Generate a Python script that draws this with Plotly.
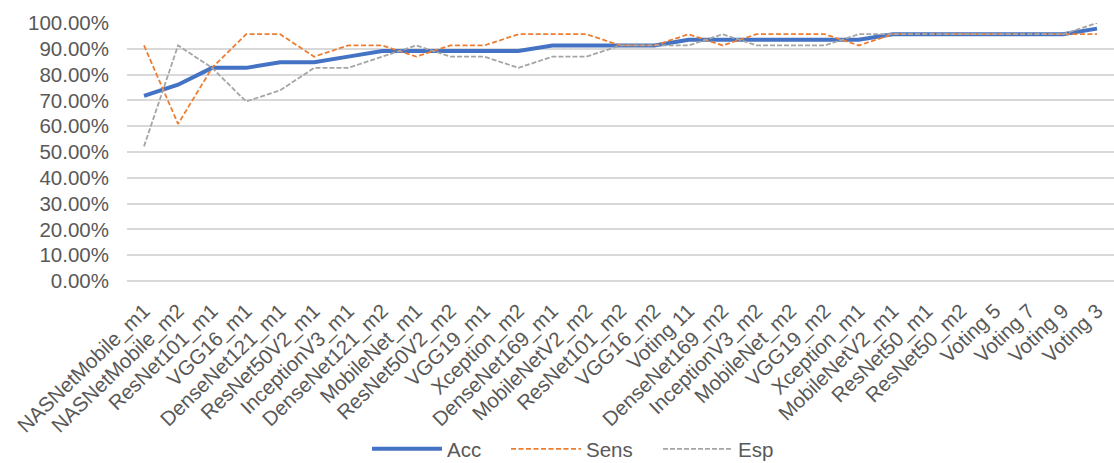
import plotly.graph_objects as go

categories = ["NASNetMobile_m1", "NASNetMobile_m2", "ResNet101_m1", "VGG16_m1", "DenseNet121_m1",
              "ResNet50V2_m1", "InceptionV3_m1", "DenseNet121_m2", "MobileNet_m1", "ResNet50V2_m2",
              "VGG19_m1", "Xception_m2", "DenseNet169_m1", "MobileNetV2_m2", "ResNet101_m2",
              "VGG16_m2", "Voting 11", "DenseNet169_m2", "InceptionV3_m2", "MobileNet_m2",
              "VGG19_m2", "Xception_m1", "MobileNetV2_m1", "ResNet50_m1", "ResNet50_m2",
              "Voting 5", "Voting 7", "Voting 9", "Voting 3"]

acc = [71.74, 76.09, 82.61, 82.61, 84.78, 84.78, 86.96, 89.13, 89.13, 89.13,
       89.13, 89.13, 91.30, 91.30, 91.30, 91.30, 93.48, 93.48, 93.48, 93.48,
       93.48, 93.48, 95.65, 95.65, 95.65, 95.65, 95.65, 95.65, 97.83]
sens = [91.30, 60.87, 82.61, 95.65, 95.65, 86.96, 91.30, 91.30, 86.96, 91.30,
        91.30, 95.65, 95.65, 95.65, 91.30, 91.30, 95.65, 91.30, 95.65, 95.65,
        95.65, 91.30, 95.65, 95.65, 95.65, 95.65, 95.65, 95.65, 95.65]
esp = [52.17, 91.30, 82.61, 69.57, 73.91, 82.61, 82.61, 86.96, 91.30, 86.96,
       86.96, 82.61, 86.96, 86.96, 91.30, 91.30, 91.30, 95.65, 91.30, 91.30,
       91.30, 95.65, 95.65, 95.65, 95.65, 95.65, 95.65, 95.65, 100.00]

y_ticks = [0, 10, 20, 30, 40, 50, 60, 70, 80, 90, 100]
y_tick_labels = [f"{v:.2f}%" for v in y_ticks]

font_family = "Liberation Sans, Arial, sans-serif"
text_color = "#595959"
fs = 20.5

fig = go.Figure()
fig.add_trace(go.Scatter(x=categories, y=acc, name="Acc", mode="lines", legend="legend",
                         line=dict(color="#4472C4", width=4)))
fig.add_trace(go.Scatter(x=categories, y=sens, name="Sens", mode="lines", legend="legend2",
                         line=dict(color="#ED7D31", width=1.8, dash="5px,2.5px")))
fig.add_trace(go.Scatter(x=categories, y=esp, name="Esp", mode="lines", legend="legend3",
                         line=dict(color="#A5A5A5", width=1.8, dash="5px,2px")))

def leg(xpx):
    return dict(orientation="h", x=xpx / 1114, xanchor="left", xref="container",
                y=1 - 449 / 463, yanchor="middle", yref="container",
                font=dict(size=fs, color=text_color), itemwidth=70,
                bgcolor="rgba(0,0,0,0)", borderwidth=0)

fig.update_layout(
    width=1114, height=463,
    margin=dict(l=127, r=0, t=23, b=182),
    paper_bgcolor="white", plot_bgcolor="white",
    font=dict(family=font_family, size=fs, color=text_color),
    showlegend=True,
    legend=leg(367), legend2=leg(506), legend3=leg(658),
    xaxis=dict(type="category", range=[-0.5, len(categories) - 0.5], tickangle=-44,
               showgrid=False, showline=False, ticks="", automargin=False,
               ticklabelstandoff=13,
               tickfont=dict(size=fs, color=text_color)),
    yaxis=dict(range=[0, 100], tickvals=y_ticks, ticktext=y_tick_labels,
               showgrid=True, gridcolor="#D9D9D9", gridwidth=1.5,
               zeroline=True, zerolinecolor="#D9D9D9", zerolinewidth=1.5,
               showline=False, ticks="", automargin=False,
               ticklabelstandoff=17,
               tickfont=dict(size=fs, color=text_color)),
)

fig.write_html("out.html")
